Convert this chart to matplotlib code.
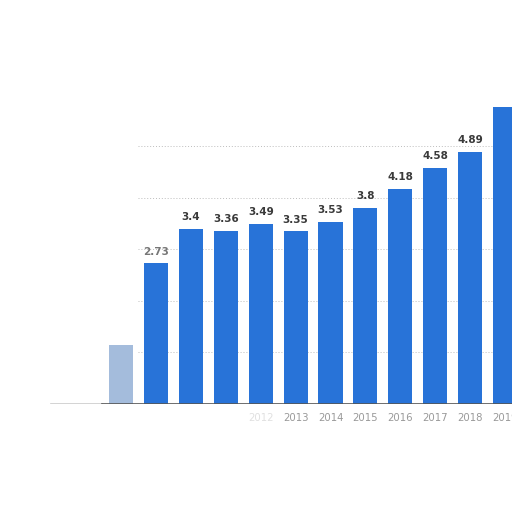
import matplotlib.pyplot as plt

# values
years = [2008, 2009, 2010, 2011, 2012, 2013, 2014, 2015, 2016, 2017, 2018, 2019]
values = [1.15, 2.73, 3.4, 3.36, 3.49, 3.35, 3.53, 3.8, 4.18, 4.58, 4.89, 5.77]
labels = ['', '2.73', '3.4', '3.36', '3.49', '3.35', '3.53', '3.8', '4.18', '4.58', '4.89', '']
tick_years = [2012, 2013, 2014, 2015, 2016, 2017, 2018, 2019]

blue = '#2873d8'

fig = plt.figure(figsize=(5.12, 5.12), dpi=100)
ax = fig.add_axes([0, 0.211, 1, 0.789])
ax.set_xlim(2004.53, 2019.2)
ax.set_ylim(0, 7.84)

# faint dotted gridlines
for g in [1, 2, 3, 4, 5]:
    ax.axhline(g, xmin=0.27, color='#bdbdbd', lw=0.7, ls=(0, (1, 2)), zorder=0)

for yr, v, lab in zip(years, values, labels):
    if yr == 2008:
        ax.bar(yr, v, width=0.69, color='#5a86c0', alpha=0.55, zorder=2)
        continue
    ax.bar(yr, v, width=0.69, color=blue, zorder=2)
    if lab:
        c = '#777777' if yr == 2009 else '#3a3a3a'
        ax.text(yr, v + 0.13, lab, ha='center', va='bottom', fontsize=7.5,
                fontweight='bold', color=c)

# baseline
ax.axhline(0, xmin=0.1, xmax=0.2, color='#cccccc', lw=1.2, zorder=3)
ax.axhline(0, xmin=0.2, xmax=1, color='#555555', lw=1.2, zorder=3)

for yr in tick_years:
    c = '#e0e0e0' if yr == 2012 else '#999999'
    ax.text(yr, -0.27, str(yr), ha='center', va='center', fontsize=7.3, color=c)

for s in ax.spines.values():
    s.set_visible(False)
ax.set_xticks([])
ax.set_yticks([])

fig.savefig('out.png', dpi=100)
